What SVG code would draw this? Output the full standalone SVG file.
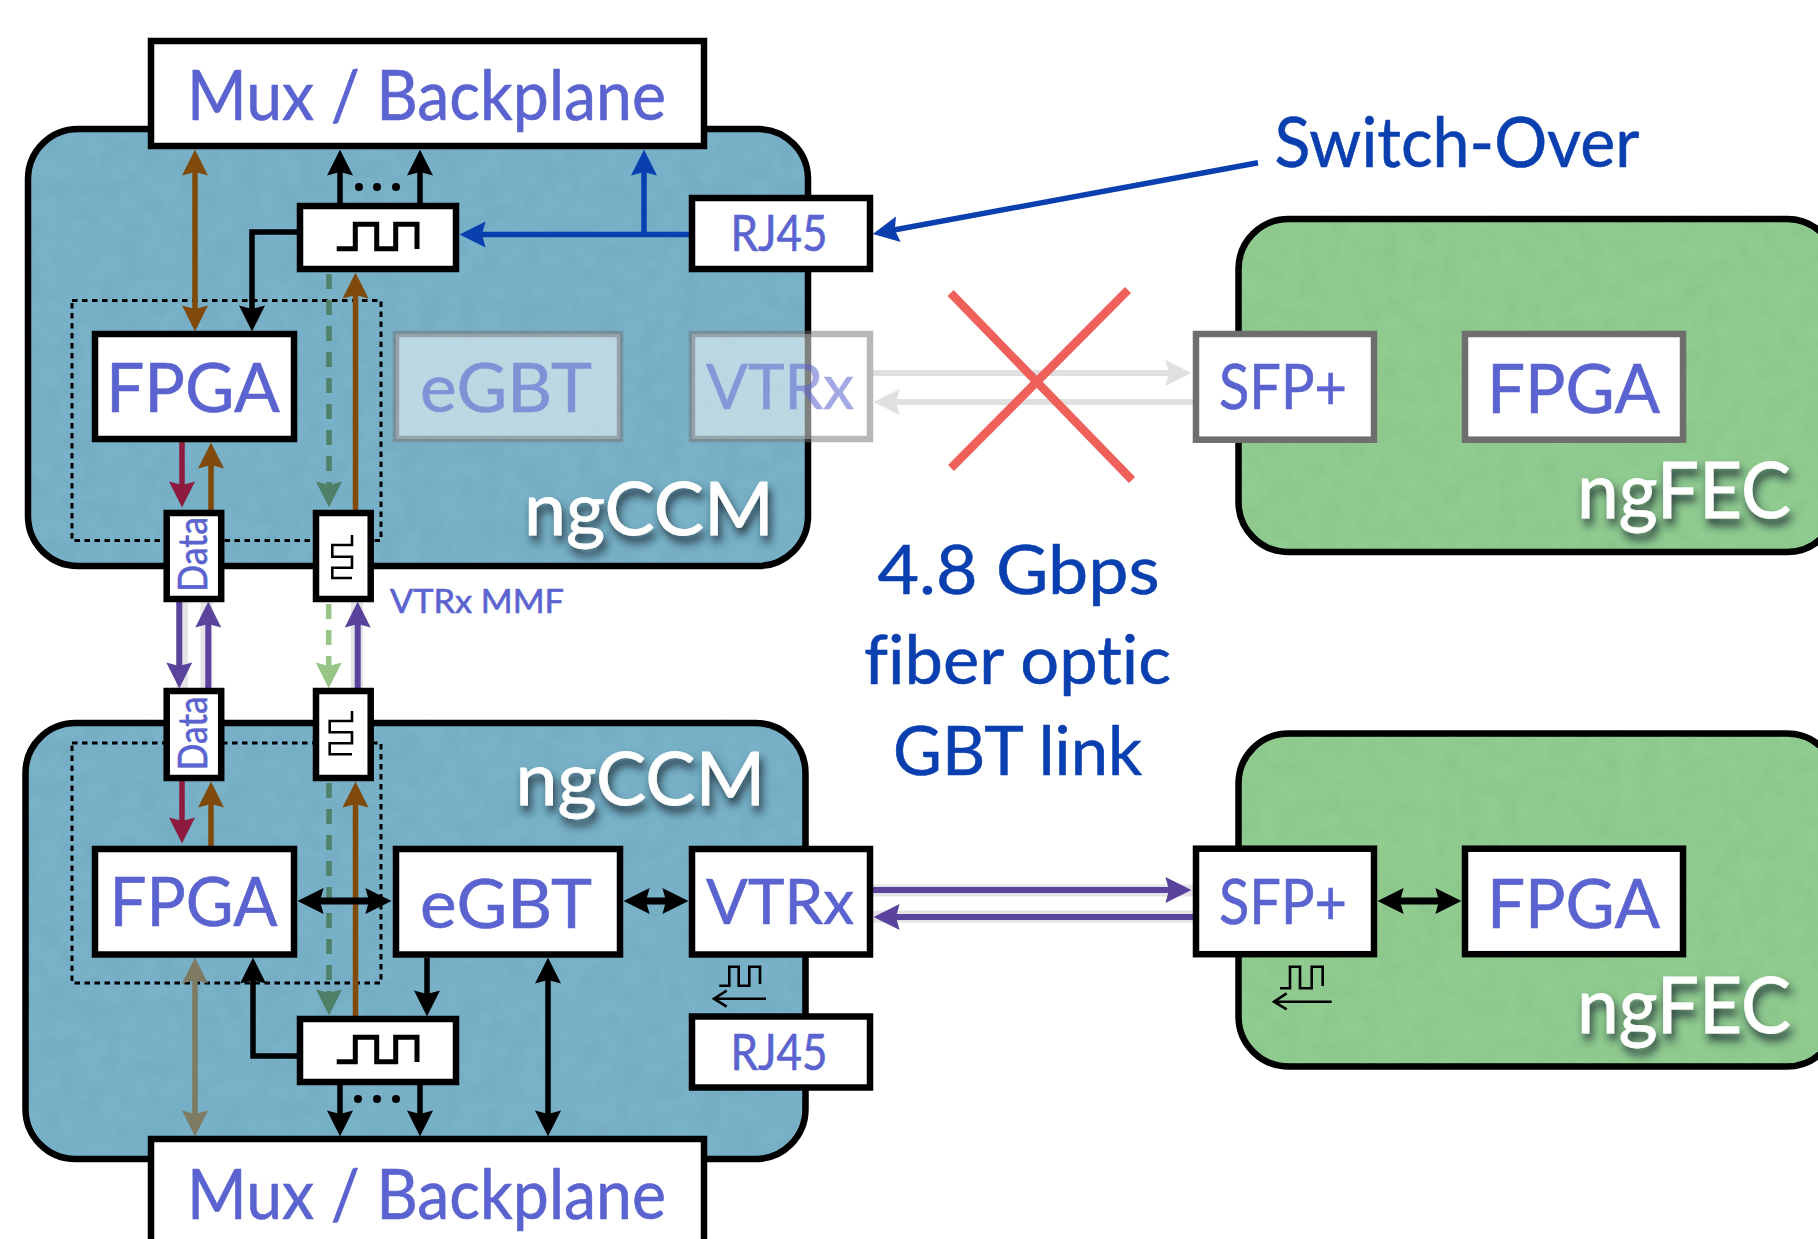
<svg xmlns="http://www.w3.org/2000/svg" width="1818" height="1239" viewBox="0 0 1818 1239">
<style>
text{font-family:Lato,"Open Sans","Liberation Sans",sans-serif;fill:#5a63cf;stroke:#5a63cf;stroke-width:.6;font-variant-ligatures:none}
.box{fill:#fff;stroke:#000;stroke-width:6.5}
.gbox{fill:#fff;stroke:#6e6e6e;stroke-width:6.5}
.fade{fill:#fff;fill-opacity:.5;stroke:#717171;stroke-opacity:.5;stroke-width:6.5}
.ccm{fill:#78b1c8;stroke:#000;stroke-width:6.5;filter:url(#mottle)}
.fec{fill:#90cb90;stroke:#000;stroke-width:6.5;filter:url(#mottle)}
.dot{fill:none;stroke:#000;stroke-width:3;stroke-dasharray:5.5 4.5}
.wave{fill:none;stroke:#000;stroke-width:5}
.wave2{fill:none;stroke:#000;stroke-width:2.6}
text.lab{fill:#fff;stroke:#fff;stroke-width:.8;filter:url(#sh)}
text.blue{fill:#0a3fb0;stroke:#0a3fb0}
line,path.c{fill:none}
.k{stroke:#000;stroke-width:5.5}
.kk{stroke:#000;stroke-width:7}
.br{stroke:#7f4a0a;stroke-width:5.5}
.bl{stroke:#0a3fb0;stroke-width:5.5}
.re{stroke:#8f1a3f;stroke-width:5.5}
.pu{stroke:#5a439c;stroke-width:6}
.ha{stroke:#e4e4e6;stroke-width:12}
.dg{stroke:#4f8068;stroke-width:5.5;stroke-dasharray:15 11}
.lg{stroke:#98c586;stroke-width:5.5;stroke-dasharray:15 11}
.ta{stroke:#7f7a62;stroke-width:5.5}
.fg{stroke:#dfe0e0;stroke-width:6}
.x{stroke:#ee6059;stroke-width:8.5}
</style>
<defs>
<filter id="sh" x="-10%" y="-20%" width="120%" height="150%"><feDropShadow dx="3" dy="7" stdDeviation="4" flood-color="#14282f" flood-opacity=".85"/></filter>
<filter id="mottle" x="-2%" y="-2%" width="104%" height="104%"><feTurbulence type="fractalNoise" baseFrequency=".05" numOctaves="3" seed="4"/><feColorMatrix type="matrix" values="0 0 0 0 0 0 0 0 0 0 0 0 0 0 0 0 0 0 .12 -.045"/><feComposite in2="SourceAlpha" operator="in" result="n"/><feMerge><feMergeNode in="SourceGraphic"/><feMergeNode in="n"/></feMerge></filter>
<marker id="mk" markerUnits="userSpaceOnUse" markerWidth="26" markerHeight="26" viewBox="0 0 25 25" refX="15" refY="12.5" orient="auto-start-reverse"><path d="M25 12.5L0 0L3.5 12.5L0 25Z" fill="#000"/></marker>
<marker id="mbr" markerUnits="userSpaceOnUse" markerWidth="26" markerHeight="26" viewBox="0 0 25 25" refX="15" refY="12.5" orient="auto-start-reverse"><path d="M25 12.5L0 0L3.5 12.5L0 25Z" fill="#7f4a0a"/></marker>
<marker id="mbl" markerUnits="userSpaceOnUse" markerWidth="26" markerHeight="26" viewBox="0 0 25 25" refX="15" refY="12.5" orient="auto-start-reverse"><path d="M25 12.5L0 0L3.5 12.5L0 25Z" fill="#0a3fb0"/></marker>
<marker id="mre" markerUnits="userSpaceOnUse" markerWidth="26" markerHeight="26" viewBox="0 0 25 25" refX="15" refY="12.5" orient="auto-start-reverse"><path d="M25 12.5L0 0L3.5 12.5L0 25Z" fill="#8f1a3f"/></marker>
<marker id="mpu" markerUnits="userSpaceOnUse" markerWidth="26" markerHeight="26" viewBox="0 0 25 25" refX="15" refY="12.5" orient="auto-start-reverse"><path d="M25 12.5L0 0L3.5 12.5L0 25Z" fill="#5a439c"/></marker>
<marker id="mdg" markerUnits="userSpaceOnUse" markerWidth="26" markerHeight="26" viewBox="0 0 25 25" refX="15" refY="12.5" orient="auto-start-reverse"><path d="M25 12.5L0 0L3.5 12.5L0 25Z" fill="#4f8068"/></marker>
<marker id="mlg" markerUnits="userSpaceOnUse" markerWidth="26" markerHeight="26" viewBox="0 0 25 25" refX="15" refY="12.5" orient="auto-start-reverse"><path d="M25 12.5L0 0L3.5 12.5L0 25Z" fill="#98c586"/></marker>
<marker id="mta" markerUnits="userSpaceOnUse" markerWidth="26" markerHeight="26" viewBox="0 0 25 25" refX="15" refY="12.5" orient="auto-start-reverse"><path d="M25 12.5L0 0L3.5 12.5L0 25Z" fill="#7f7a62"/></marker>
<marker id="mfg" markerUnits="userSpaceOnUse" markerWidth="26" markerHeight="26" viewBox="0 0 25 25" refX="15" refY="12.5" orient="auto-start-reverse"><path d="M25 12.5L0 0L3.5 12.5L0 25Z" fill="#dfe0e0"/></marker>
</defs>

<g id="ngccm-top"><rect class="ccm" x="28" y="129" width="780" height="437" rx="50"/><text class="lab" x="524" y="535" font-size="74" textLength="250" lengthAdjust="spacingAndGlyphs">ngCCM</text></g>
<g id="ngccm-bottom"><rect class="ccm" x="25.5" y="723" width="780" height="436" rx="50"/><text class="lab" x="515.5" y="805" font-size="74" textLength="250" lengthAdjust="spacingAndGlyphs">ngCCM</text></g>
<g id="ngfec-top"><rect class="fec" x="1238.5" y="219" width="598.5" height="333" rx="50"/><text class="lab" x="1577" y="518" font-size="78" textLength="214" lengthAdjust="spacingAndGlyphs">ngFEC</text></g>
<g id="ngfec-bottom"><rect class="fec" x="1238.5" y="733.5" width="598.5" height="333" rx="50"/><text class="lab" x="1577" y="1033" font-size="78" textLength="214" lengthAdjust="spacingAndGlyphs">ngFEC</text></g>
<g id="dotted-top"><rect class="dot" x="72" y="300.5" width="309" height="240"/></g>
<g id="dotted-bottom"><rect class="dot" x="72" y="743" width="309" height="240"/></g>

<g id="connectors">
<line class="br" x1="195" y1="160" x2="195" y2="321" marker-start="url(#mbr)" marker-end="url(#mbr)"/>
<line class="k" x1="340" y1="204" x2="340" y2="160" marker-end="url(#mk)"/>
<line class="k" x1="420" y1="204" x2="420" y2="160" marker-end="url(#mk)"/>
<line class="bl" x1="644" y1="234" x2="644" y2="160" marker-end="url(#mbl)"/>
<line class="bl" x1="690" y1="234.5" x2="470" y2="234.5" marker-end="url(#mbl)"/>
<path class="c k" d="M298 232H252V321" marker-end="url(#mk)"/>
<line class="bl" x1="1258" y1="162.7" x2="883" y2="232" marker-end="url(#mbl)"/>
<line class="br" x1="355.5" y1="510" x2="355.5" y2="283" marker-end="url(#mbr)"/>
<line class="dg" x1="329" y1="274" x2="329" y2="497" marker-end="url(#mdg)"/>
<line class="re" x1="182" y1="442" x2="182" y2="497" marker-end="url(#mre)"/>
<line class="br" x1="211" y1="510" x2="211" y2="453" marker-end="url(#mbr)"/>

<line class="ha" x1="182" y1="602" x2="182" y2="688"/>
<line class="ha" x1="206.5" y1="602" x2="206.5" y2="688"/>
<line class="ha" x1="357" y1="602" x2="357" y2="688"/>
<line class="pu" x1="179.3" y1="602" x2="179.3" y2="678" marker-end="url(#mpu)"/>
<line class="pu" x1="208.3" y1="688" x2="208.3" y2="612" marker-end="url(#mpu)"/>
<line class="lg" x1="328.7" y1="604" x2="328.7" y2="678" marker-end="url(#mlg)"/>
<line class="pu" x1="357.7" y1="688" x2="357.7" y2="612" marker-end="url(#mpu)"/>

<line class="re" x1="182" y1="781" x2="182" y2="833" marker-end="url(#mre)"/>
<line class="br" x1="211" y1="846" x2="211" y2="792" marker-end="url(#mbr)"/>
<line class="dg" x1="329" y1="783" x2="329" y2="1005" marker-end="url(#mdg)"/>
<line class="br" x1="355.5" y1="1017" x2="355.5" y2="792" marker-end="url(#mbr)"/>
<line class="kk" x1="308" y1="901" x2="381" y2="901" marker-start="url(#mk)" marker-end="url(#mk)"/>
<line class="kk" x1="634" y1="901" x2="678" y2="901" marker-start="url(#mk)" marker-end="url(#mk)"/>
<line class="k" x1="427" y1="958" x2="427" y2="1006" marker-end="url(#mk)"/>
<line class="k" x1="548" y1="968" x2="548" y2="1126" marker-start="url(#mk)" marker-end="url(#mk)"/>
<line class="ta" x1="195" y1="968" x2="195" y2="1126" marker-start="url(#mta)" marker-end="url(#mta)"/>
<path class="c k" d="M298 1056H253V968" marker-end="url(#mk)"/>
<line class="k" x1="340" y1="1085" x2="340" y2="1126" marker-end="url(#mk)"/>
<line class="k" x1="420" y1="1085" x2="420" y2="1126" marker-end="url(#mk)"/>

<line class="ha" x1="873" y1="890.5" x2="1193" y2="890.5"/>
<line class="ha" x1="873" y1="916.5" x2="1193" y2="916.5"/>
<line class="pu" x1="873" y1="890" x2="1181" y2="890" marker-end="url(#mpu)"/>
<line class="pu" x1="1193" y1="917" x2="884" y2="917" marker-end="url(#mpu)"/>
<line class="kk" x1="1388" y1="901" x2="1451" y2="901" marker-start="url(#mk)" marker-end="url(#mk)"/>

<line class="fg" x1="873" y1="373" x2="1181" y2="373" marker-end="url(#mfg)"/>
<line class="fg" x1="1193" y1="402" x2="884" y2="402" marker-end="url(#mfg)"/>
</g>

<g id="mux-top"><rect class="box" x="151" y="41" width="553" height="105"/><text x="187" y="119.5" font-size="69" textLength="479" lengthAdjust="spacingAndGlyphs">Mux / Backplane</text></g>
<g id="mux-bottom"><rect class="box" x="151" y="1139" width="553" height="120"/><text x="187" y="1218.5" font-size="69" textLength="479" lengthAdjust="spacingAndGlyphs">Mux / Backplane</text></g>

<g id="clock-top"><rect class="box" x="300" y="206" width="156" height="63"/><path class="wave" d="M336.7 248.7H355.3V224.3H376.7V248.7H395.7V224.3H417V249"/>
<circle cx="359" cy="187" r="4"/><circle cx="377" cy="187" r="4"/><circle cx="396" cy="187" r="4"/></g>
<g id="clock-bottom"><rect class="box" x="300" y="1019" width="156" height="63"/><path class="wave" d="M336.7 1061.7H355.3V1037.3H376.7V1061.7H395.7V1037.3H417V1062"/>
<circle cx="358" cy="1099" r="4"/><circle cx="377" cy="1099" r="4"/><circle cx="396" cy="1099" r="4"/></g>

<g id="rj45-top"><rect class="box" x="692" y="198" width="178" height="71"/><text x="730.5" y="250.5" font-size="50" textLength="97" lengthAdjust="spacingAndGlyphs">RJ45</text></g>
<g id="rj45-bottom"><rect class="box" x="692" y="1016.5" width="178" height="71"/><text x="730.5" y="1069.5" font-size="50" textLength="97" lengthAdjust="spacingAndGlyphs">RJ45</text></g>

<g id="fpga-top"><rect class="box" x="95" y="334" width="199" height="105"/><text x="106" y="412" font-size="67" textLength="174" lengthAdjust="spacingAndGlyphs">FPGA</text></g>
<g id="egbt-top"><rect class="fade" x="396" y="334" width="224" height="105"/><text x="420" y="412" font-size="67" textLength="172" lengthAdjust="spacingAndGlyphs" opacity=".6">eGBT</text></g>
<g id="vtrx-top"><rect class="fade" x="692" y="334" width="178" height="105"/><text x="706" y="409" font-size="61" textLength="148" lengthAdjust="spacingAndGlyphs" opacity=".55">VTRx</text></g>
<g id="sfp-top"><rect class="gbox" x="1196" y="334" width="178" height="105.7"/><text x="1219" y="409" font-size="61" textLength="128" lengthAdjust="spacingAndGlyphs">SFP+</text></g>
<g id="fpga-right-top"><rect class="gbox" x="1465" y="334" width="218" height="105.7"/><text x="1487" y="412.7" font-size="67" textLength="173" lengthAdjust="spacingAndGlyphs">FPGA</text></g>

<g id="fpga-bottom"><rect class="box" x="95" y="849" width="199" height="105.5"/><text x="109.5" y="926" font-size="67" textLength="168" lengthAdjust="spacingAndGlyphs">FPGA</text></g>
<g id="egbt-bottom"><rect class="box" x="396" y="849" width="224" height="105.5"/><text x="420" y="928" font-size="67" textLength="172" lengthAdjust="spacingAndGlyphs">eGBT</text></g>
<g id="vtrx-bottom"><rect class="box" x="692" y="849" width="178" height="105.5"/><text x="706" y="924" font-size="61" textLength="148" lengthAdjust="spacingAndGlyphs">VTRx</text></g>
<g id="sfp-bottom"><rect class="box" x="1196" y="848.7" width="178" height="105.5"/><text x="1219" y="924" font-size="61" textLength="128" lengthAdjust="spacingAndGlyphs">SFP+</text></g>
<g id="fpga-right-bottom"><rect class="box" x="1465" y="848.7" width="218" height="105.5"/><text x="1487" y="927.7" font-size="67" textLength="173" lengthAdjust="spacingAndGlyphs">FPGA</text></g>

<g id="data-top"><rect class="box" x="166.7" y="513" width="54.5" height="86"/><text transform="translate(207.3 592) rotate(-90)" font-size="40" textLength="75" lengthAdjust="spacingAndGlyphs">Data</text></g>
<g id="data-bottom"><rect class="box" x="166.7" y="691" width="54.5" height="87"/><text transform="translate(207.3 770.5) rotate(-90)" font-size="40" textLength="74" lengthAdjust="spacingAndGlyphs">Data</text></g>
<g id="serial-top"><rect class="box" x="316" y="513" width="54.7" height="86"/><path class="wave2" d="M352 535V545H332.3V556.7H352V567.7H332.3V578H352"/></g>
<g id="serial-bottom"><rect class="box" x="316" y="691" width="54.7" height="87"/><path class="wave2" d="M352 711V721H329.7V732.3H352V743.3H329.7V754.3H352"/></g>

<g id="clock-hint-ccm"><path class="wave2" d="M719.3 985.7H729.3V966.7H738.7V985.7H749.3V966.7H760V984"/><path class="wave2" d="M766 998.7H714M726.7 990.7L714 998.7L726.7 1006.7"/></g>
<g id="clock-hint-fec"><path class="wave2" d="M1280 988.3H1290V966.7H1300V988.3H1311.7V966.7H1322.7V986"/><path class="wave2" d="M1331.7 1001.7H1274M1286.7 993.3L1274 1001.7L1286.7 1009.3"/></g>

<g id="cross"><line class="x" x1="950.6" y1="293" x2="1132" y2="480"/><line class="x" x1="1128" y1="290" x2="951" y2="468"/></g>

<g id="labels">
<text x="390" y="612.5" font-size="33" textLength="174" lengthAdjust="spacingAndGlyphs">VTRx MMF</text>
<text class="blue" x="1274.5" y="167" font-size="69" textLength="365" lengthAdjust="spacingAndGlyphs">Switch-Over</text>
<text class="blue" x="877.5" y="594" font-size="68" textLength="282" lengthAdjust="spacingAndGlyphs">4.8 Gbps</text>
<text class="blue" x="864" y="684" font-size="68" textLength="307" lengthAdjust="spacingAndGlyphs">fiber optic</text>
<text class="blue" x="893" y="774.5" font-size="68" textLength="249" lengthAdjust="spacingAndGlyphs">GBT link</text>
</g>
</svg>
